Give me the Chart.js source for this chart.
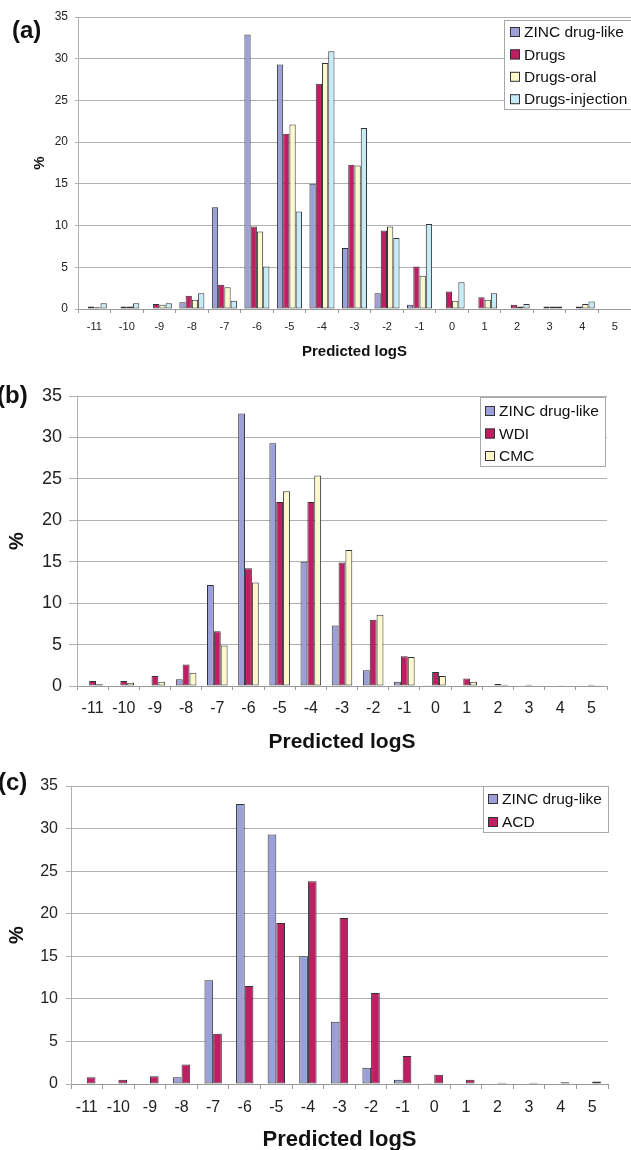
<!DOCTYPE html>
<html>
<head>
<meta charset="utf-8">
<script src="https://cdn.jsdelivr.net/npm/chart.js@4.4.1/dist/chart.umd.min.js"></script>
<style>
    html, body { margin: 0; padding: 0; background: #fff; overflow: hidden; }
    body { position: relative; width: 631px; height: 1150px; }
    canvas { position: absolute; left: 0; }
    .tag { position: absolute; font: bold 24px "Liberation Sans", Arial, sans-serif; color: #111; line-height: 1; }
</style>
</head>
<body>
<canvas id="chart-a" width="631" height="365" style="top:0"></canvas>
<canvas id="chart-b" width="631" height="400" style="top:360px"></canvas>
<canvas id="chart-c" width="631" height="400" style="top:760px"></canvas>
<div class="tag" style="left:12px;top:18px">(a)</div>
<div class="tag" style="left:-3px;top:383px">(b)</div>
<div class="tag" style="left:-2px;top:770px">(c)</div>

<script>
// Predicted logS bins
const logSBins = ['-11', '-10', '-9', '-8', '-7', '-6', '-5', '-4', '-3', '-2', '-1', '0', '1', '2', '3', '4', '5'];

// % of compounds per bin
const zincDrugLike   = [0, 0, 0, 0.8, 12.2, 32.9, 29.3, 15.0, 7.3, 1.9, 0.5, 0.1, 0, 0, 0, 0, 0];
const drugs          = [0.3, 0.3, 0.6, 1.6, 2.9, 9.9, 21.0, 27.0, 17.3, 9.4, 5.1, 2.1, 1.4, 0.5, 0.3, 0.3, 0];
const drugsOral      = [0.2, 0.3, 0.5, 1.1, 2.6, 9.3, 22.1, 29.5, 17.2, 9.9, 4.0, 1.0, 1.1, 0.3, 0.3, 0.6, 0];
const drugsInjection = [0.7, 0.7, 0.7, 1.9, 1.0, 5.1, 11.7, 30.9, 21.7, 8.5, 10.2, 3.2, 1.9, 0.6, 0.3, 0.9, 0];
const wdi            = [0.6, 0.6, 1.2, 2.6, 6.6, 14.2, 22.2, 22.2, 14.9, 8.0, 3.6, 1.7, 0.9, 0.25, 0.15, 0.1, 0.15];
const cmc            = [0.2, 0.4, 0.5, 1.6, 4.9, 12.5, 23.5, 25.4, 16.4, 8.6, 3.5, 1.2, 0.5, 0.15, 0, 0, 0.1];
const acd            = [0.8, 0.5, 0.9, 2.3, 5.9, 11.5, 18.9, 23.8, 19.5, 10.7, 3.3, 1.1, 0.5, 0.15, 0.15, 0.2, 0.3];

// y axis range
const yMax = 35;
const yStep = 5;

const FONT = '"Liberation Sans", Arial, sans-serif';
const COLORS = {
    zinc: '#9c9fd8',
    crimson: '#bd1f62',
    oral: '#fdf9cc',
    injection: '#c4ebf6'
};

// legend drawn as a boxed list inside the plot, Excel style
const boxLegend = {
    id: 'boxLegend',
    afterDatasetsDraw(chart, args, opts) {
        const ctx = chart.ctx;
        ctx.save();
        ctx.fillStyle = '#fff';
        ctx.fillRect(opts.x, opts.y, opts.w, opts.h);
        ctx.strokeStyle = '#a8a8a8';
        ctx.lineWidth = 1;
        ctx.strokeRect(opts.x + 0.5, opts.y + 0.5, opts.w, opts.h);
        ctx.font = opts.size + 'px ' + FONT;
        ctx.textBaseline = 'middle';
        chart.data.datasets.forEach(function(ds, i) {
            const cy = opts.y + opts.first + i * opts.row;
            ctx.fillStyle = ds.backgroundColor;
            ctx.fillRect(opts.x + opts.swatch, cy - 5, 10, 10);
            ctx.strokeStyle = '#333';
            ctx.strokeRect(opts.x + opts.swatch + 0.5, cy - 4.5, 9, 9);
            ctx.fillStyle = '#111';
            ctx.fillText(ds.label, opts.x + opts.swatch + 14, cy + 1);
        });
        ctx.restore();
    }
};

function series(label, data, color) {
    return {
        label: label,
        data: data,
        backgroundColor: color,
        borderColor: '#333',
        borderWidth: 1,
        borderSkipped: false
    };
}

function makePanel(id, datasets, cfg) {
    const ctx = document.getElementById(id).getContext('2d');
    return new Chart(ctx, {
        type: 'bar',
        data: { labels: logSBins, datasets: datasets },
        options: {
            responsive: false,
            animation: false,
            devicePixelRatio: 1,
            categoryPercentage: cfg.catPct,
            barPercentage: 1.0,
            layout: { padding: { top: cfg.top, right: cfg.right, left: 0, bottom: 0 } },
            plugins: {
                legend: { display: false },
                tooltip: { enabled: false },
                boxLegend: cfg.legend
            },
            scales: {
                x: {
                    grid: {
                        display: true,
                        drawOnChartArea: false,
                        drawTicks: true,
                        tickLength: cfg.xTick,
                        color: '#9a9a9a'
                    },
                    border: { display: true, color: '#9a9a9a' },
                    ticks: {
                        color: '#222',
                        padding: cfg.xPad,
                        maxRotation: 0,
                        autoSkip: false,
                        font: { family: FONT, size: cfg.xFont }
                    },
                    title: {
                        display: true,
                        text: 'Predicted logS',
                        color: '#111',
                        font: { family: FONT, size: cfg.titleFont, weight: 'bold' },
                        padding: { top: 0, bottom: cfg.titlePad }
                    },
                    afterFit: function(scale) { scale.height = cfg.xHeight; }
                },
                y: {
                    min: 0,
                    max: yMax,
                    grid: {
                        color: '#b0b0b0',
                        tickLength: cfg.yTick,
                        drawTicks: true
                    },
                    border: { display: true, color: '#b0b0b0' },
                    ticks: {
                        stepSize: yStep,
                        color: '#222',
                        padding: cfg.yPad,
                        font: { family: FONT, size: cfg.yFont }
                    },
                    title: {
                        display: true,
                        text: '%',
                        color: '#111',
                        font: { family: FONT, size: cfg.pctFont, weight: 'bold' },
                        padding: { top: cfg.pctPad, bottom: 0 }
                    },
                    afterFit: function(scale) { scale.width = cfg.yWidth; }
                }
            }
        },
        plugins: [boxLegend]
    });
}

// (a) ZINC vs drugs split by route
makePanel('chart-a', [
    series('ZINC drug-like', zincDrugLike, COLORS.zinc),
    series('Drugs', drugs, COLORS.crimson),
    series('Drugs-oral', drugsOral, COLORS.oral),
    series('Drugs-injection', drugsInjection, COLORS.injection)
], {
    catPct: 0.77, top: 17, right: 0, yWidth: 78, xHeight: 56,
    xTick: 4, xPad: 7, xFont: 11, yTick: 3, yPad: 7, yFont: 12,
    titleFont: 15, titlePad: 4, pctFont: 15, pctPad: 31,
    legend: { x: 504, y: 20, w: 140, h: 89, first: 12, row: 22.4, swatch: 6, size: 15.5 }
});

// (b) ZINC vs WDI / CMC
makePanel('chart-b', [
    series('ZINC drug-like', zincDrugLike, COLORS.zinc),
    series('WDI', wdi, COLORS.crimson),
    series('CMC', cmc, COLORS.oral)
], {
    catPct: 0.66, top: 36, right: 24, yWidth: 77, xHeight: 74,
    xTick: 4, xPad: 9, xFont: 16, yTick: 8, yPad: 7, yFont: 18,
    titleFont: 21, titlePad: 5, pctFont: 20, pctPad: 5,
    legend: { x: 480, y: 37, w: 125, h: 69, first: 14, row: 22.5, swatch: 5, size: 15.5 }
});

// (c) ZINC vs ACD
makePanel('chart-c', [
    series('ZINC drug-like', zincDrugLike, COLORS.zinc),
    series('ACD', acd, COLORS.crimson)
], {
    catPct: 0.55, top: 26, right: 23, yWidth: 71, xHeight: 76,
    xTick: 5, xPad: 9, xFont: 16, yTick: 5, yPad: 8, yFont: 16,
    titleFont: 22, titlePad: 7, pctFont: 20, pctPad: 5,
    legend: { x: 483, y: 26, w: 125, h: 46, first: 13, row: 23, swatch: 5, size: 15.5 }
});
</script>
</body>
</html>
